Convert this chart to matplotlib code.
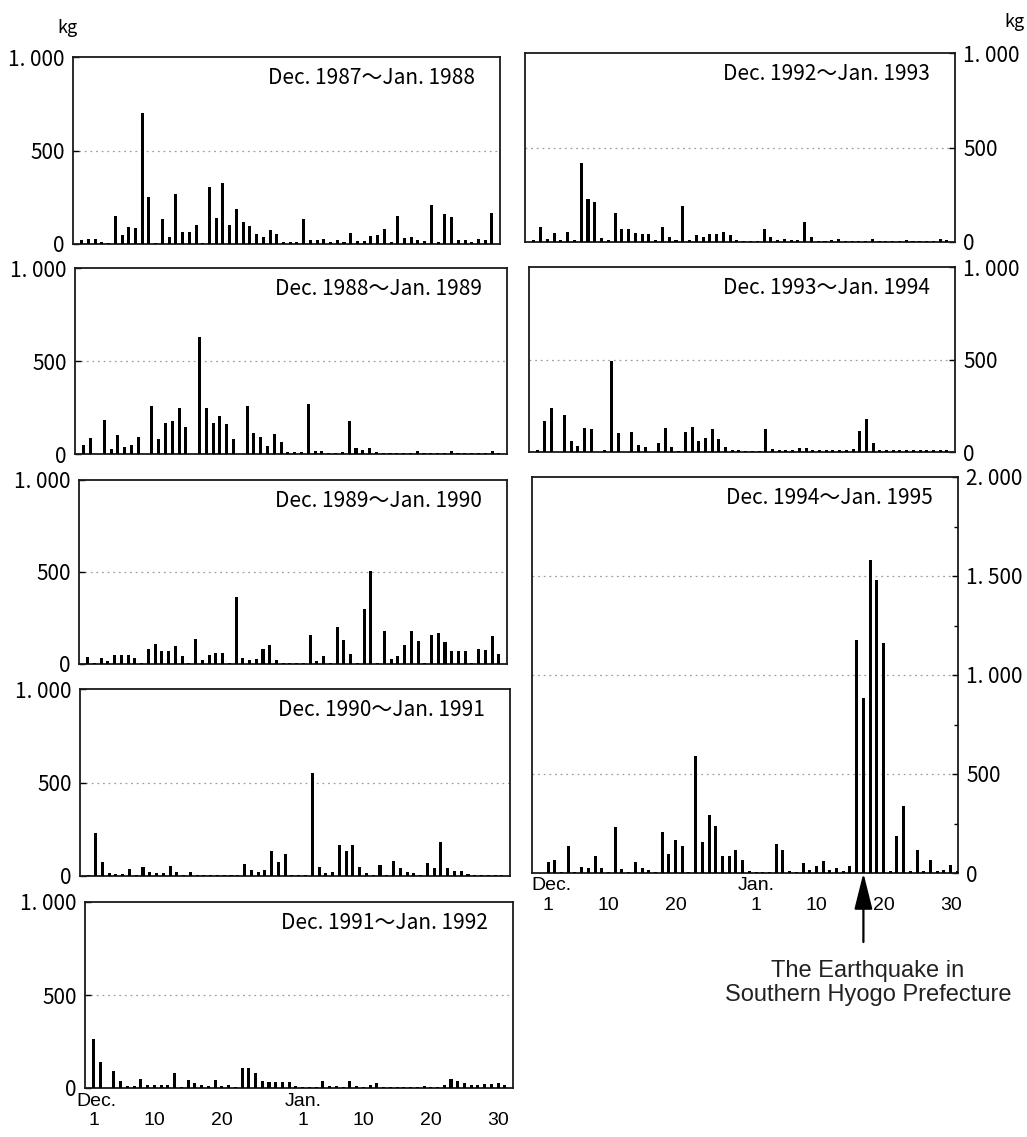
import matplotlib
matplotlib.use("Agg")
import matplotlib.pyplot as plt
import numpy as np

plt.rcParams['font.family'] = ['Liberation Sans Narrow', 'Noto Sans CJK JP', 'DejaVu Sans']

# daily amounts (kg), Dec 1 .. Jan 31 (62 days) for each winter
c8788 = [20, 25, 25, 10, 5, 150, 50, 90, 85, 700, 250, 5, 135, 35, 270, 65, 65, 100, 5, 305,
         140, 325, 100, 185, 120, 95, 55, 35, 75, 55, 10, 10, 10, 135, 20, 20, 25, 10, 20, 10,
         60, 15, 15, 45, 50, 80, 10, 150, 30, 35, 20, 15, 210, 10, 160, 145, 20, 20, 10, 25,
         20, 165]
c8889 = [48, 85, 0, 183, 25, 102, 40, 48, 93, 0, 260, 79, 169, 180, 250, 145, 0, 627, 250, 165,
         206, 162, 81, 0, 260, 111, 93, 43, 108, 63, 12, 12, 12, 270, 18, 18, 3, 3, 12, 178,
         34, 22, 34, 10, 5, 5, 8, 5, 5, 15, 5, 5, 8, 5, 15, 5, 5, 5, 8, 5,
         15, 5]
c8990 = [36, 3, 33, 18, 50, 50, 50, 33, 3, 81, 110, 69, 69, 96, 45, 4, 136, 24, 50, 60,
         60, 3, 363, 33, 24, 27, 81, 101, 24, 4, 4, 4, 4, 159, 18, 45, 4, 199, 128, 56,
         4, 300, 503, 4, 181, 29, 42, 101, 177, 123, 4, 159, 168, 117, 69, 69, 69, 4, 81, 74,
         154, 56]
c9091 = [5, 232, 77, 14, 9, 9, 36, 5, 46, 23, 18, 14, 55, 20, 5, 23, 5, 5, 5, 5,
         5, 5, 5, 64, 32, 20, 32, 136, 77, 116, 5, 5, 5, 550, 46, 14, 23, 166, 134, 166,
         50, 14, 5, 59, 5, 80, 41, 23, 14, 5, 71, 41, 184, 41, 29, 29, 9, 5, 5, 5,
         5, 5]
c9192 = [266, 142, 0, 92, 36, 9, 9, 48, 18, 18, 14, 14, 80, 4, 41, 27, 18, 9, 41, 9,
         14, 4, 107, 107, 83, 39, 30, 30, 30, 30, 9, 5, 5, 5, 36, 10, 10, 5, 39, 10,
         5, 18, 27, 5, 5, 8, 5, 5, 5, 10, 5, 8, 15, 50, 36, 27, 18, 15, 20, 20,
         25, 15]
c9293 = [12, 80, 18, 48, 12, 53, 9, 419, 225, 212, 23, 9, 154, 71, 71, 50, 44, 44, 9, 80,
         27, 9, 191, 9, 35, 27, 44, 44, 53, 35, 12, 5, 5, 5, 71, 27, 12, 18, 12, 9,
         106, 27, 5, 5, 8, 15, 5, 5, 5, 5, 15, 5, 5, 5, 5, 12, 5, 5, 5, 5,
         15, 8]
c9394 = [9, 165, 237, 0, 199, 60, 33, 132, 127, 0, 9, 494, 105, 0, 110, 36, 27, 0, 51, 132,
         27, 5, 110, 137, 60, 78, 123, 69, 29, 9, 9, 5, 5, 5, 123, 18, 9, 9, 9, 23,
         23, 9, 9, 9, 9, 9, 9, 18, 114, 177, 47, 9, 9, 9, 9, 12, 9, 9, 9, 9,
         12, 9]
c9495 = [57, 66, 5, 138, 5, 29, 24, 84, 24, 7, 231, 20, 7, 54, 24, 17, 5, 209, 96, 167,
         138, 3, 593, 158, 293, 239, 84, 84, 116, 67, 12, 5, 5, 5, 147, 118, 12, 3, 51, 17,
         34, 63, 17, 25, 12, 34, 1178, 885, 1580, 1480, 1161, 12, 186, 339, 12, 115, 12, 64, 8, 17,
         39, 12]

titles = ['Dec. 1987～Jan. 1988', 'Dec. 1988～Jan. 1989', 'Dec. 1989～Jan. 1990',
          'Dec. 1990～Jan. 1991', 'Dec. 1991～Jan. 1992', 'Dec. 1992～Jan. 1993',
          'Dec. 1993～Jan. 1994', 'Dec. 1994～Jan. 1995']
series = [c8788, c8889, c8990, c9091, c9192, c9293, c9394, c9495]

day_labels = ['1', '10', '20', '1', '10', '20', '30']
day_pos = [0, 9, 19, 31, 40, 50, 60]
quake_day = 47   # Jan 17

W, H = 1027, 1137
fig = plt.figure(figsize=(W / 100, H / 100), dpi=100)

lat = ['Liberation Sans', 'DejaVu Sans']


def box(x0, y0, x1, y1):
    return [x0 / W, 1 - y1 / H, (x1 - x0) / W, (y1 - y0) / H]


def kfmt(v):
    if v == 0:
        return '0'
    return '{:,}'.format(int(v)).replace(',', '. ')


# panel boxes (pixels), side of the y labels, y max, left x limit
panels = [
    ((73, 57, 500, 244), 'left', 1000, -1.3),
    ((75, 268, 507, 454), 'left', 1000, -1.3),
    ((79, 480, 507, 664), 'left', 1000, -1.3),
    ((80, 689, 510, 876), 'left', 1000, -1.3),
    ((85, 902, 513, 1088), 'left', 1000, -1.3),
    ((525, 53, 955, 242), 'right', 1000, -1.3),
    ((529, 267, 955, 452), 'right', 1000, -1.3),
    ((532, 477, 958, 873), 'right', 2000, -2.4),
]

axes = []
for k, (b, side, ymax, x0) in enumerate(panels):
    ax = fig.add_axes(box(*b))
    vals = series[k]
    ax.bar(np.arange(len(vals)), vals, width=0.45, color='black', zorder=3)
    ax.set_xlim(x0, x0 + 63.5)
    ax.set_ylim(0, ymax)
    if ymax == 2000:
        ax.set_yticks([0, 500, 1000, 1500, 2000])
        ax.set_yticks(np.arange(250, 2000, 500), minor=True)
        grid_at = [500, 1000, 1500]
    else:
        ax.set_yticks([0, 500, 1000])
        grid_at = [500]
    ax.set_yticklabels([kfmt(v) for v in ax.get_yticks()])
    for g in grid_at:
        ax.axhline(g, color='#a0a0a0', lw=0.9, ls=(0, (1.5, 3)), zorder=1)
    if side == 'right':
        ax.yaxis.tick_right()
    ax.tick_params(axis='y', which='both', direction='in', length=4, width=1,
                   labelsize=15, pad=6)
    ax.tick_params(axis='y', which='minor', length=3)
    for s in ax.spines.values():
        s.set_linewidth(1.3)
        s.set_color('#1a1a1a')
    ax.annotate(titles[k], xy=(1, 1), xycoords='axes fraction', xytext=(-25, -21),
                textcoords='offset pixels', ha='right', va='center', fontsize=15)
    if k in (4, 7):
        ax.set_xticks(day_pos)
        ax.set_xticklabels(day_labels, family=lat)
        ax.tick_params(axis='x', length=0, labelsize=14, pad=17.5)
        ax.annotate('Dec.', xy=(0, 0), xycoords=('data', 'axes fraction'), xytext=(3, -13),
                    textcoords='offset pixels', ha='center', va='center', fontsize=14,
                    family=lat)
        ax.annotate('Jan.', xy=(31, 0), xycoords=('data', 'axes fraction'), xytext=(0, -13),
                    textcoords='offset pixels', ha='center', va='center', fontsize=14,
                    family=lat)
    else:
        ax.set_xticks([])
    axes.append(ax)

fig.text(67 / W, 1 - 28 / H, 'kg', ha='center', va='center', fontsize=13)
fig.text(1014 / W, 1 - 22 / H, 'kg', ha='center', va='center', fontsize=13)

# earthquake arrow
ax8 = axes[7]
ax8.annotate('', xy=(quake_day, 0), xycoords=('data', 'axes fraction'), xytext=(0, -69),
             textcoords='offset pixels',
             arrowprops=dict(arrowstyle='-|>,head_length=1.4,head_width=0.35', color='black',
                             lw=1.6, shrinkA=0, shrinkB=0, mutation_scale=16),
             annotation_clip=False)
fig.text(868 / W, 1 - 983 / H, 'The Earthquake in\nSouthern Hyogo Prefecture', ha='center',
         va='center', fontsize=17, family=lat, linespacing=1.1, color='#222222')

fig.savefig('out.png', dpi=100)
